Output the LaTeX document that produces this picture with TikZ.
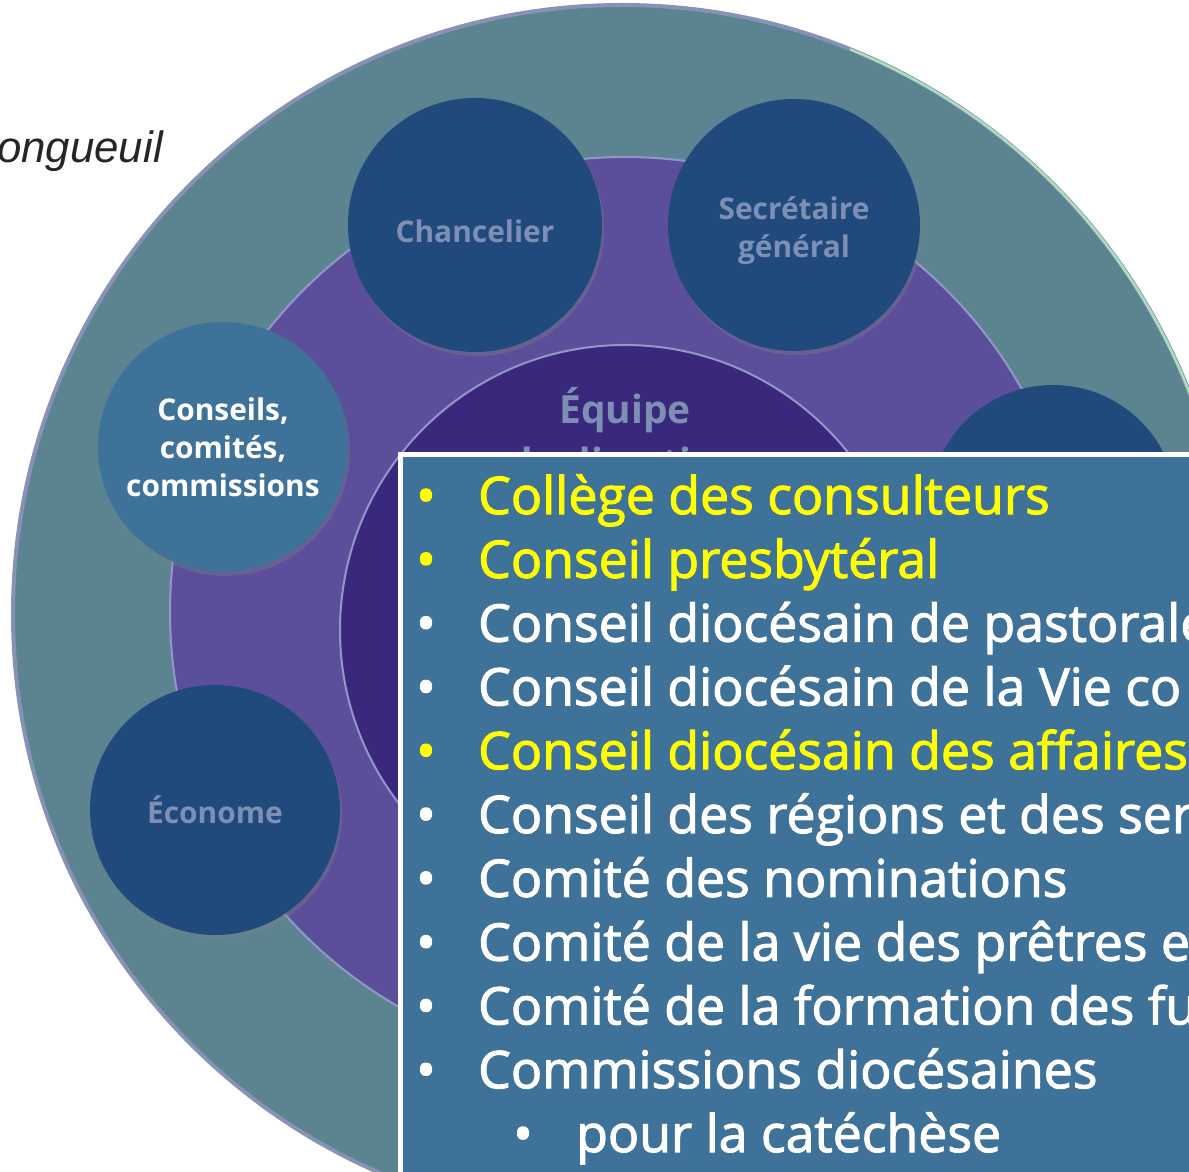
\documentclass[tikz,border=0pt]{standalone}
\usepackage{fontspec}
\setmainfont{Open Sans}
\newfontfamily\listfont{Open Sans}[FakeBold=2]
\newfontfamily\titlefont{Liberation Sans}
\usetikzlibrary{shadows}

\definecolor{ringteal}{RGB}{91,132,144}
\definecolor{ringpurple}{RGB}{91,79,156}
\definecolor{corepurple}{RGB}{58,40,124}
\definecolor{outerline}{RGB}{136,145,182}
\definecolor{greenline}{RGB}{168,224,184}
\definecolor{ringline}{RGB}{146,151,200}
\definecolor{bubbledark}{RGB}{33,74,124}
\definecolor{bubblelight}{RGB}{63,114,153}
\definecolor{mutedtext}{RGB}{125,143,180}
\definecolor{boxblue}{RGB}{63,114,152}
\definecolor{hilite}{RGB}{255,255,0}

\begin{document}
\begin{tikzpicture}[x=1bp,y=1bp,
    bubble/.style={circle,inner sep=0pt,minimum size=250bp,fill=bubbledark,
      text=mutedtext,align=center,font=\bfseries\fontsize{30}{38}\selectfont,
      drop shadow={opacity=0.35,shadow xshift=2bp,shadow yshift=-4bp}},
    listitem/.style={anchor=base west,inner sep=0pt,text=white,
      font=\listfont\fontsize{52}{62}\selectfont},
    listbullet/.style={anchor=base,inner sep=0pt,font=\listfont\fontsize{52}{62}\selectfont}]
  \useasboundingbox (0,0) rectangle (1189,1172);
  \clip (0,0) rectangle (1189,1172);
  %%
  % Title (cut at the left edge)
  \node[anchor=base east,inner sep=0pt,font=\titlefont\itshape\fontsize{44}{50}\selectfont,
    text=black!85] (title) at (163,1009) {ongueuil};
  % Rings
  \fill[ringteal] (622,558) circle[radius=609];
  \draw[outerline,line width=4bp] (622,558) circle[radius=609];
  \draw[greenline,line width=2.5bp] ([shift={(68:609)}]622,558) arc[start angle=68,end angle=0,radius=609];
  \draw[ringline,line width=2bp,fill=ringpurple] (625,560) circle[radius=455];
  \draw[ringline,line width=2bp,fill=corepurple] (625,542) circle[radius=285];
  % Node: equipe
  \node[text=mutedtext,anchor=base,inner sep=0pt,font=\bfseries\fontsize{39}{46}\selectfont] (equipe) at (625,748) {Équipe};
  \node[text=mutedtext,anchor=base,inner sep=0pt,font=\bfseries\fontsize{39}{46}\selectfont] (direction) at (625,695) {de direction};
  % Node: chancelier
  \node[bubble,minimum size=254bp,text height=36bp,text depth=0bp] (chancelier) at (475,947) {Chancelier};
  % Node: secretaire
  \node[bubble,minimum size=252bp] (secretaire) at (794,947) {\rule{0pt}{34bp}Secrétaire\\général};
  % Node: conseils
  \node[bubble,fill=bubblelight,text=white] (conseils) at (223,725) {Conseils,\\comités,\\commissions};
  % Node: econome
  \node[bubble] (econome) at (215,362) {Économe};
  % Node: hidden (behind the list)
  \node[bubble,minimum size=248bp] (hidden) at (1053,663) {};
  % Node: list
  \node[draw=white,line width=5bp,fill=boxblue,anchor=north west,inner sep=0pt,
    minimum width=820bp,minimum height=760bp] (list) at (398,720) {};
  \foreach \txt/\col [count=\i from 0] in {
      Collège des consulteurs/hilite,
      Conseil presbytéral/hilite,
      Conseil diocésain de pastorale/white,
      Conseil diocésain de la Vie co/white,
      Conseil diocésain des affaires/hilite,
      Conseil des régions et des ser/white,
      Comité des nominations/white,
      Comité de la vie des prêtres e/white,
      Comité de la formation des fu/white,
      Commissions diocésaines/white} {
    \node[listbullet,text=\col] (b\i) at (426,658-63.8*\i) {•};
    \node[listitem,text=\col] (item\i) at (478,658-63.8*\i) {\txt};
  }
  \node[listbullet,text=white] (b10) at (523,658-63.8*10) {•};
  \node[listitem] (item10) at (576,658-63.8*10) {pour la catéchèse};
  %
\end{tikzpicture}
\end{document}
